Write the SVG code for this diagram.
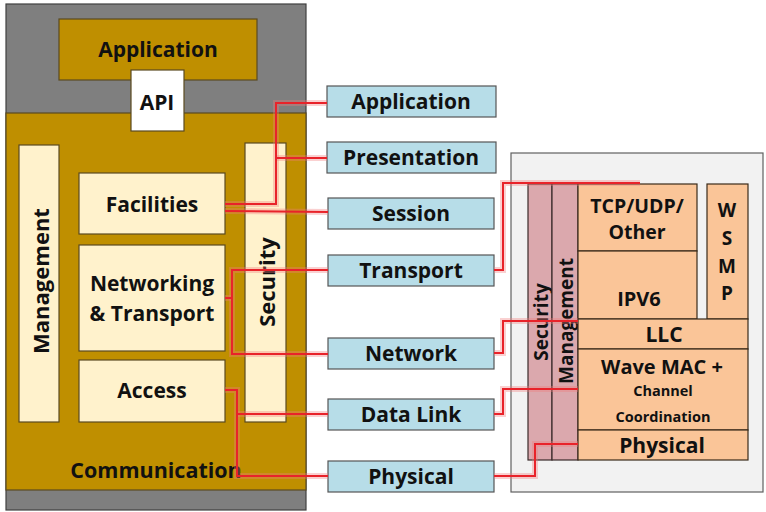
<svg xmlns="http://www.w3.org/2000/svg" width="766" height="512" viewBox="0 0 766 512">
<style>
text{font-family:"Open Sans","Liberation Sans",sans-serif;font-weight:700;fill:#111111;text-anchor:middle;dominant-baseline:central}
.gold{fill:#bf8f00;stroke:#5a4a20;stroke-width:1.2}
.cream{fill:#fff2cc;stroke:#5a4a20;stroke-width:1.2}
.blue{fill:#b7dde8;stroke:#555;stroke-width:1.2}
.pink{fill:#dba8ad;stroke:#3a2a2a;stroke-width:1.2}
.orange{fill:#fac598;stroke:#3a2a1a;stroke-width:1.2}
.glow{fill:none;stroke:#f07a7a;stroke-width:6;stroke-opacity:0.35;stroke-linejoin:miter}
.wire{fill:none;stroke:#e8232a;stroke-width:2;stroke-linejoin:miter}
</style>
<rect width="766" height="512" fill="#ffffff"/>
<g id="its-stack">
<rect x="6" y="4" width="300" height="506" fill="#7f7f7f" stroke="#404040" stroke-width="1.2"/>
<rect x="6" y="113" width="300" height="377" class="gold"/>
<text x="156" y="469" font-size="21.5">Communication</text>
</g>
<g id="app"><rect x="59" y="19" width="198" height="61" class="gold"/><text x="158" y="49" font-size="21">Application</text></g>
<g id="api"><rect x="131" y="70" width="53" height="61" fill="#ffffff" stroke="#5a4a20" stroke-width="1.2"/><text x="157" y="102" font-size="21">API</text></g>
<g id="management"><rect x="19" y="145" width="40" height="277" class="cream"/><text transform="translate(40 281) rotate(-90)" font-size="22">Management</text></g>
<g id="security"><rect x="245" y="143" width="41" height="279" class="cream"/><text transform="translate(266 282) rotate(-90)" font-size="22">Security</text></g>
<g id="facilities"><rect x="79" y="173" width="146" height="61" class="cream"/><text x="152" y="204" font-size="21">Facilities</text></g>
<g id="networking"><rect x="79" y="245" width="146" height="106" class="cream"/><text x="152" y="283" font-size="21">Networking</text><text x="152" y="313" font-size="21">&amp; Transport</text></g>
<g id="access"><rect x="79" y="360" width="146" height="62" class="cream"/><text x="152" y="390" font-size="21">Access</text></g>

<g id="osi-application"><rect x="327" y="86" width="169" height="31" class="blue"/><text x="411" y="101" font-size="21">Application</text></g>
<g id="osi-presentation"><rect x="327" y="142" width="169" height="31" class="blue"/><text x="411" y="157" font-size="21">Presentation</text></g>
<g id="osi-session"><rect x="328" y="198" width="166" height="31" class="blue"/><text x="411" y="213" font-size="21">Session</text></g>
<g id="osi-transport"><rect x="328" y="255" width="166" height="31" class="blue"/><text x="411" y="270" font-size="21">Transport</text></g>
<g id="osi-network"><rect x="328" y="338" width="166" height="31" class="blue"/><text x="411" y="353" font-size="21">Network</text></g>
<g id="osi-datalink"><rect x="328" y="399" width="166" height="31" class="blue"/><text x="411" y="414" font-size="21">Data Link</text></g>
<g id="osi-physical"><rect x="328" y="461" width="166" height="31" class="blue"/><text x="411" y="476" font-size="21">Physical</text></g>

<g id="wave-stack"><rect x="511" y="153" width="252" height="339" fill="#f2f2f2" stroke="#606060" stroke-width="1.2"/></g>
<g id="wave-security"><rect x="528" y="184" width="24" height="276" class="pink"/><text transform="translate(541 322) rotate(-90)" font-size="19">Security</text></g>
<g id="wave-management"><rect x="552" y="184" width="26" height="276" class="pink"/><text transform="translate(566 321) rotate(-90)" font-size="19">Management</text></g>
<g id="tcp"><rect x="578" y="184" width="119" height="67" class="orange"/><text x="637" y="205" font-size="19.5">TCP/UDP/</text><text x="637" y="231" font-size="19.5">Other</text></g>
<g id="ipv6"><rect x="578" y="251" width="119" height="68" class="orange"/><text x="639" y="298" font-size="20">IPV6</text></g>
<g id="wsmp"><rect x="707" y="184" width="41" height="135" class="orange"/><text x="727" y="210" font-size="19">W</text><text x="727" y="238" font-size="19">S</text><text x="727" y="266" font-size="19">M</text><text x="727" y="293" font-size="19">P</text></g>
<g id="llc"><rect x="578" y="319" width="170" height="30" class="orange"/><text x="664" y="334" font-size="21">LLC</text></g>
<g id="wavemac"><rect x="578" y="349" width="170" height="81" class="orange"/><text x="662" y="366" font-size="20">Wave MAC +</text><text x="663" y="390" font-size="14.5">Channel</text><text x="663" y="416" font-size="14.5">Coordination</text></g>
<g id="wave-physical"><rect x="578" y="430" width="170" height="30" class="orange"/><text x="662" y="445" font-size="21">Physical</text></g>

<g id="connectors">
<g class="glow">
<path d="M225 204H276V103H327"/><path d="M276 158H327"/><path d="M225 211L328 212"/>
<path d="M328 270H232V354H328"/><path d="M225 298H232"/>
<path d="M225 390H237V476H328"/><path d="M237 414H328"/>
<path d="M494 270H503V183H640"/><path d="M494 353H503V321H578"/><path d="M494 414H503V389H578"/><path d="M494 476H535V444H578"/>
</g>
<g class="wire">
<path d="M225 204H276V103H327"/><path d="M276 158H327"/><path d="M225 211L328 212"/>
<path d="M328 270H232V354H328"/><path d="M225 298H232"/>
<path d="M225 390H237V476H328"/><path d="M237 414H328"/>
<path d="M494 270H503V183H640"/><path d="M494 353H503V321H578"/><path d="M494 414H503V389H578"/><path d="M494 476H535V444H578"/>
</g>
</g>
</svg>
